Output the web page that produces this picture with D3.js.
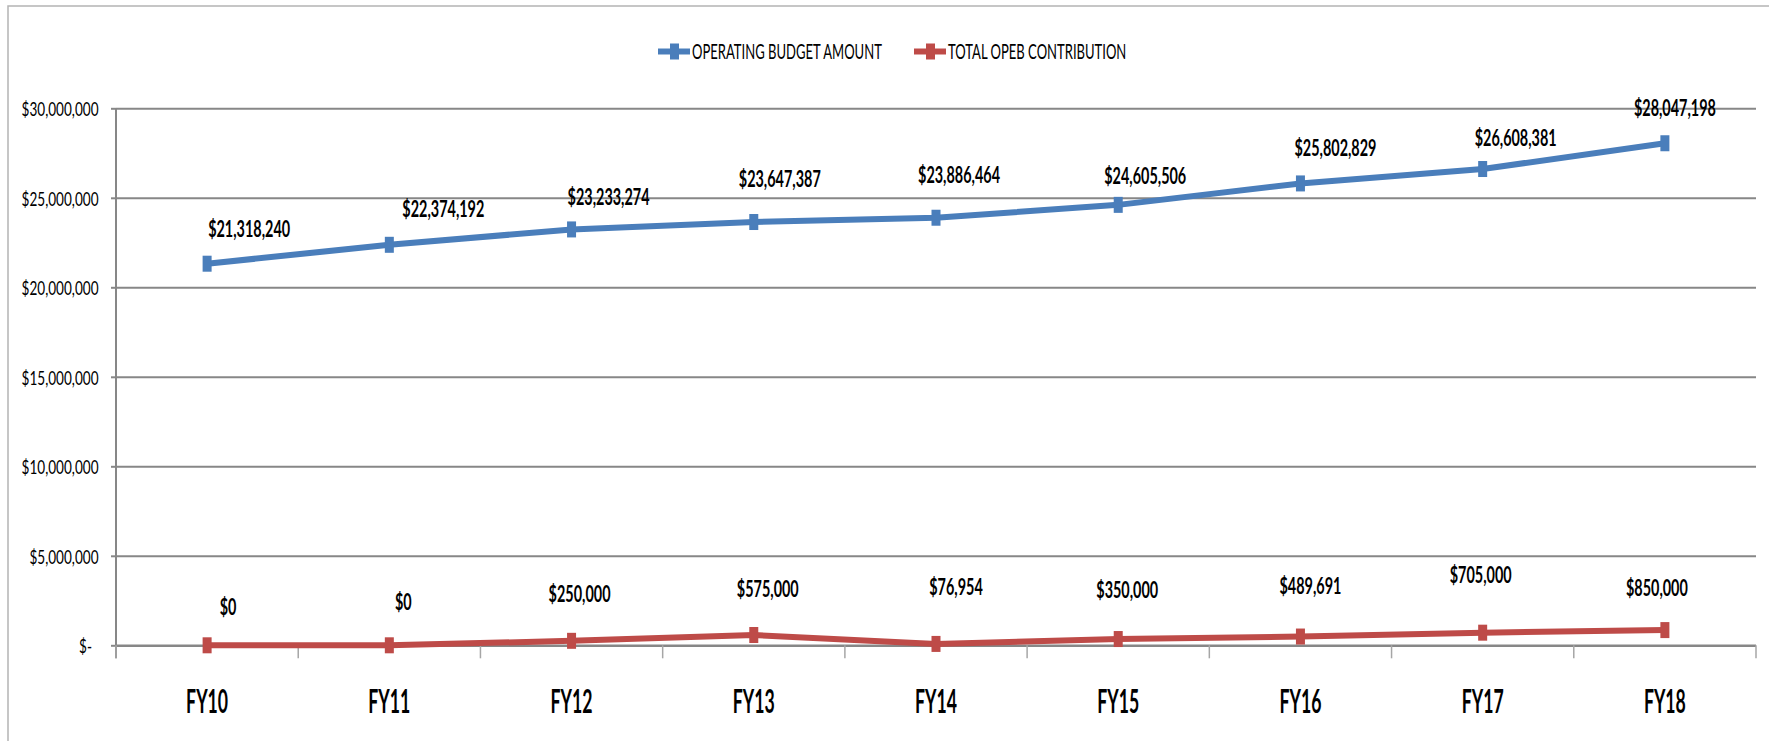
<!DOCTYPE html>
<html>
<head>
<meta charset="utf-8">
<script src="https://cdn.jsdelivr.net/npm/d3@7"></script>
<style>
  body { margin: 0; background: #fff; }
  text { font-family: Lato, "Open Sans", sans-serif; fill: #000; }
</style>
</head>
<body>
<div id="chart"></div>
<script>
var categories = ["FY10", "FY11", "FY12", "FY13", "FY14", "FY15", "FY16", "FY17", "FY18"];
var operatingBudget = [21318240, 22374192, 23233274, 23647387, 23886464, 24605506, 25802829, 26608381, 28047198];
var opebContribution = [0, 0, 250000, 575000, 76954, 350000, 489691, 705000, 850000];
var yTicks = [0, 5000000, 10000000, 15000000, 20000000, 25000000, 30000000];
var seriesNames = ["OPERATING BUDGET AMOUNT", "TOTAL OPEB CONTRIBUTION"];

// labels were dragged by hand in the original, so keep their nudges (px from the point)
var budgetLabelShift = [[42, -36], [54, -37], [37, -33], [26, -44], [23, -44], [27, -30], [35, -36], [33, -32], [10, -36]];
var opebLabelShift = [[21, -39], [14, -44], [8, -48], [14, -47], [20, -58], [9, -50], [10, -52], [-2, -59], [-8, -43]];

var width = 1769,
    height = 741;
var plotLeft = 116, plotRight = 1756, plotTop = 108.3, plotBottom = 645.3;
var blue = "#4A7EBB", red = "#BE4B48";

var svg = d3.select("#chart").append("svg")
    .attr("width", width)
    .attr("height", height);

// outer chart-area frame (only top and left edges are visible)
svg.append("rect")
    .attr("x", 8).attr("y", 6)
    .attr("width", width + 20).attr("height", height + 20)
    .attr("fill", "none")
    .attr("stroke", "#b4b4b4")
    .attr("stroke-width", 1.5);

var x = d3.scaleBand().domain(categories).range([plotLeft, plotRight]);
var y = d3.scaleLinear().domain([0, 30000000]).range([plotBottom, plotTop]);

// measure text so the squeezed (condensed) look of the source can be matched
function measure(str, size, weight) {
  var t = svg.append("text").attr("font-size", size).attr("font-weight", weight).text(str);
  var w = t.node().getComputedTextLength();
  t.remove();
  return w;
}
var sxTick = 77 / measure("$20,000,000", 20, "normal");
var sxLabel = 82 / measure("$21,318,240", 23, "bold");
var sxCat = 42 / measure("FY10", 33, "bold");
var sxLegend = 190 / measure(seriesNames[0], 21, "normal");

// gridlines
svg.append("g")
    .attr("transform", "translate(" + plotLeft + ",0)")
    .call(d3.axisLeft(y).tickValues(yTicks).tickSize(-(plotRight - plotLeft)).tickFormat(""))
    .call(function(g) { g.select(".domain").remove(); })
    .selectAll("line")
    .attr("stroke", "#878787")
    .attr("stroke-width", function(d) { return d === 0 ? 2.6 : 2; });

// y axis
var fmt = d3.format("$,");
var yAxis = svg.append("g")
    .attr("transform", "translate(" + plotLeft + ",0)")
    .call(d3.axisLeft(y).tickValues(yTicks).tickSize(5).tickSizeOuter(0)
      .tickFormat(function(d) { return d === 0 ? "$-" : fmt(d); }));
yAxis.select(".domain").remove();
yAxis.selectAll("line").attr("stroke", "#878787").attr("stroke-width", 2);
yAxis.selectAll("text")
    .attr("x", 0).attr("dy", null)
    .attr("fill", "#000")
    .attr("dominant-baseline", "central")
    .attr("font-size", 20)
    .attr("font-family", null)
    .attr("text-anchor", "end")
    .attr("transform", function(d) { return "translate(" + (d === 0 ? -24 : -17.5) + ",0) scale(" + sxTick + ",1)"; });
svg.append("line")
    .attr("x1", plotLeft).attr("x2", plotLeft)
    .attr("y1", plotTop).attr("y2", plotBottom + 13)
    .attr("stroke", "#878787").attr("stroke-width", 2);

// x axis: category boundaries as ticks, labels centred in bands
var bounds = categories.map(function(c) { return x(c); }).concat([plotRight]);
svg.append("g").selectAll("line")
    .data(bounds)
    .enter().append("line")
    .attr("x1", function(d) { return d; }).attr("x2", function(d) { return d; })
    .attr("y1", plotBottom).attr("y2", plotBottom + 13)
    .attr("stroke", "#a6a6a6").attr("stroke-width", 1.5);

svg.append("g").selectAll("text")
    .data(categories)
    .enter().append("text")
    .attr("font-size", 33)
    .attr("font-weight", "bold")
    .attr("text-anchor", "middle")
    .attr("dominant-baseline", "central")
    .attr("transform", function(d) { return "translate(" + (x(d) + x.bandwidth() / 2) + ",701) scale(" + sxCat + ",1)"; })
    .text(function(d) { return d; });

var series = [
  { name: seriesNames[0], values: operatingBudget, color: blue, shift: budgetLabelShift },
  { name: seriesNames[1], values: opebContribution, color: red, shift: opebLabelShift }
];

var line = d3.line()
    .x(function(d, i) { return x(categories[i]) + x.bandwidth() / 2; })
    .y(function(d) { return y(d); });

series.forEach(function(s) {
  svg.append("path")
      .datum(s.values)
      .attr("d", line)
      .attr("fill", "none")
      .attr("stroke", s.color)
      .attr("stroke-width", 6)
      .attr("stroke-linejoin", "round");

  svg.append("g").selectAll("rect")
      .data(s.values)
      .enter().append("rect")
      .attr("x", function(d, i) { return x(categories[i]) + x.bandwidth() / 2 - 4.5; })
      .attr("y", function(d) { return y(d) - 8; })
      .attr("width", 9)
      .attr("height", 16)
      .attr("fill", s.color);

  svg.append("g").selectAll("text")
      .data(s.values)
      .enter().append("text")
      .attr("font-size", 23)
      .attr("font-weight", "bold")
      .attr("text-anchor", "middle")
      .attr("dominant-baseline", "central")
      .attr("transform", function(d, i) {
        var px = x(categories[i]) + x.bandwidth() / 2 + s.shift[i][0];
        var py = y(d) + s.shift[i][1];
        return "translate(" + px + "," + py + ") scale(" + sxLabel + ",1)";
      })
      .text(function(d) { return fmt(d); });
});

// legend
var lx = 658;
series.forEach(function(s) {
  var g = svg.append("g").attr("transform", "translate(" + lx + ",51.5)");
  g.append("line")
      .attr("x1", 0).attr("x2", 32)
      .attr("stroke", s.color).attr("stroke-width", 6);
  g.append("rect")
      .attr("x", 12).attr("y", -8)
      .attr("width", 9).attr("height", 16)
      .attr("fill", s.color);
  g.append("text")
      .attr("font-size", 21)
      .attr("dominant-baseline", "central")
      .attr("transform", "translate(34,0) scale(" + sxLegend + ",1)")
      .text(s.name);
  lx += 34 + measure(s.name, 21, "normal") * sxLegend + 32;
});
</script>
</body>
</html>
